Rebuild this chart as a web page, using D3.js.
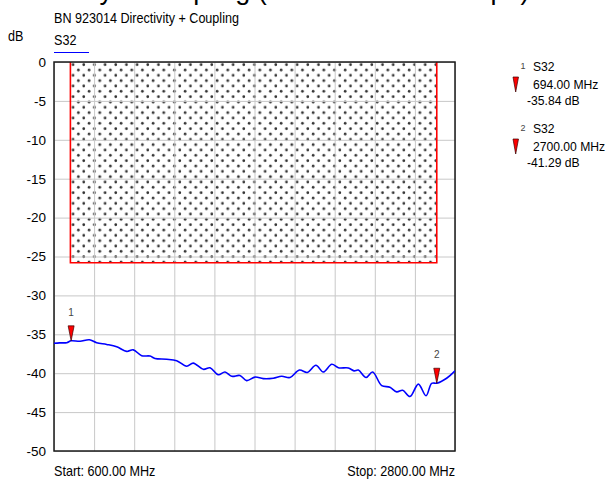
<!DOCTYPE html>
<html><head><meta charset="utf-8">
<script src="https://cdn.jsdelivr.net/npm/d3@7"></script>
<style>
body{margin:0;background:#fff}
svg{display:block}
text{font-family:"Liberation Sans",Arial,sans-serif;fill:#000}
</style>
</head><body>
<svg id="c" width="614" height="480"></svg>
<script>
// ---- data ----
const freqMHz = [600,630,670,694,743,794,834,889,944,999,1035,1081,1127,1154,1218,1273,1328,1364,1419,1456,1501,1538,1575,1620,1657,1703,1748,1803,1849,1895,1946,1990,2037,2077,2124,2160,2215,2246,2270,2312,2348,2398,2443,2480,2513,2553,2599,2641,2672,2700,2754,2800];
const s32dB = [-36.15,-36.1,-36.08,-35.84,-35.9,-35.7,-36.08,-36.3,-36.6,-37.2,-37.0,-37.75,-37.8,-38.1,-38.2,-38.4,-39.1,-38.7,-39.5,-39.3,-40.2,-39.85,-40.4,-40.3,-40.95,-40.5,-40.7,-40.65,-40.4,-40.55,-39.6,-39.9,-38.98,-39.85,-38.86,-39.3,-39.33,-39.7,-39.6,-40.55,-39.85,-41.6,-41.8,-42.4,-42.2,-43.0,-41.4,-42.9,-41.3,-41.29,-40.65,-39.7];
const yTicks = [0,-5,-10,-15,-20,-25,-30,-35,-40,-45,-50];
const xGridMHz = [600,820,1040,1260,1480,1700,1920,2140,2360,2580,2800];
const markerIds = ["1","2"];
const markerMHz = [694,2700];
const markerDB = [-35.84,-41.29];
const markerFreqLabels = ["694.00 MHz","2700.00 MHz"];
const markerDBLabels = ["-35.84 dB","-41.29 dB"];
const limitMHz = [690,2700];
const limitDB = [0,-25.8];
const traceName = "S32";
const bigTitle = "Directivity + Coupling (Insertion Loss Shape)";
const subTitle = "BN 923014 Directivity + Coupling";
const startLabel = "Start: 600.00 MHz";
const stopLabel = "Stop: 2800.00 MHz";
const yUnit = "dB";

// ---- layout ----
const L=54,R=455,T=62,B=451;
const svg = d3.select("#c");
const x = d3.scaleLinear().domain([600,2800]).range([L,R]);
const y = d3.scaleLinear().domain([0,-50]).range([T,B]);
const SX = 0.9;

function txt(parent, px, py, s, size, anchor, sx, fill){
  const g = parent.append("g").attr("transform",`translate(${px},${py}) scale(${sx},1)`);
  return g.append("text").attr("font-size",size).attr("text-anchor",anchor||"start")
    .style("fill",fill||"#000").text(s);
}

const defs = svg.append("defs");
const pat = defs.append("pattern").attr("id","dots").attr("patternUnits","userSpaceOnUse")
  .attr("width",10.67).attr("height",10.67).attr("x",x(limitMHz[0])).attr("y",T);
pat.append("circle").attr("cx",2.67).attr("cy",2.67).attr("r",1.35).attr("fill","#333");
pat.append("circle").attr("cx",8).attr("cy",8).attr("r",1.35).attr("fill","#333");
defs.append("clipPath").attr("id","clip").append("rect").attr("x",L).attr("y",T).attr("width",R-L).attr("height",B-T);

// titles
txt(svg,-4,-1,bigTitle,27,"start",1);
txt(svg,L,23,subTitle,14,"start",SX);
txt(svg,8,41,yUnit,14,"start",SX);
txt(svg,L,45,traceName,14,"start",SX);
svg.append("line").attr("x1",L).attr("x2",89).attr("y1",52.5).attr("y2",52.5).attr("stroke","#0000ff").attr("stroke-width",1.2);

// limit pattern area
svg.append("rect").attr("x",x(limitMHz[0])).attr("y",y(limitDB[0]))
  .attr("width",x(limitMHz[1])-x(limitMHz[0])).attr("height",y(limitDB[1])-y(limitDB[0]))
  .attr("fill","url(#dots)");

// grid
const gy = svg.append("g").attr("transform",`translate(${L},0)`)
  .call(d3.axisLeft(y).tickValues(yTicks).tickSize(-(R-L)).tickFormat(""));
gy.select(".domain").remove();
gy.selectAll("line").attr("stroke","#c8c8c8").attr("stroke-width",1);
const gx = svg.append("g").attr("transform",`translate(0,${B})`)
  .call(d3.axisBottom(x).tickValues(xGridMHz).tickSize(-(B-T)).tickFormat(""));
gx.select(".domain").remove();
gx.selectAll("line").attr("stroke","#c8c8c8").attr("stroke-width",1);

// limit line
svg.append("path").attr("fill","none").attr("stroke","#ff0000").attr("stroke-width",1.6)
  .attr("d",d3.line()([[x(limitMHz[0]),y(limitDB[0])],[x(limitMHz[0]),y(limitDB[1])],[x(limitMHz[1]),y(limitDB[1])],[x(limitMHz[1]),y(limitDB[0])]]));

// frame
svg.append("rect").attr("x",L).attr("y",T).attr("width",R-L).attr("height",B-T)
  .attr("fill","none").attr("stroke","#1a1a1a").attr("stroke-width",1.5);

// y tick labels
const ya = svg.append("g").attr("transform",`translate(${L},0)`)
  .call(d3.axisLeft(y).tickValues(yTicks).tickSize(0).tickPadding(8).tickFormat(d=>String(d)));
ya.select(".domain").remove();
ya.selectAll("text").attr("font-size",13.5).attr("font-family","Liberation Sans, Arial, sans-serif").style("fill","#000");

// start / stop
txt(svg,L,476,startLabel,14,"start",SX);
txt(svg,R,476,stopLabel,14,"end",SX);

// trace
svg.append("path").attr("clip-path","url(#clip)")
  .datum(freqMHz.map((f,i)=>[f,s32dB[i]]))
  .attr("fill","none").attr("stroke","#0000ff").attr("stroke-width",1.6)
  .attr("d",d3.line().x(d=>x(d[0])).y(d=>y(d[1])).curve(d3.curveCatmullRom));

// markers on trace
markerIds.forEach((id,i)=>{
  const mx=x(markerMHz[i]), my=y(markerDB[i]);
  svg.append("path").attr("d",`M${mx-3},${my-15}L${mx+3},${my-15}L${mx},${my}Z`)
    .attr("fill","#ff0000").attr("stroke","#3a0000").attr("stroke-width",0.7);
  svg.append("text").attr("x",mx).attr("y",my-25).attr("text-anchor","middle")
    .attr("font-size",10).style("fill","#444").text(id);
});

// marker legend
const legTop=[66,128];
markerIds.forEach((id,i)=>{
  const t=legTop[i];
  svg.append("text").attr("x",523).attr("y",t+3).attr("font-size",9).attr("text-anchor","middle").style("fill","#444").text(id);
  txt(svg,533,t+5,traceName,13.5,"start",SX);
  svg.append("path").attr("d",`M${513},${t+11}L${518.5},${t+11}L${515.7},${t+26}Z`)
    .attr("fill","#ff0000").attr("stroke","#3a0000").attr("stroke-width",0.7);
  txt(svg,533,t+23,markerFreqLabels[i],13.5,"start",SX);
  txt(svg,527,t+39,markerDBLabels[i],13.5,"start",SX);
});
</script>
</body></html>
